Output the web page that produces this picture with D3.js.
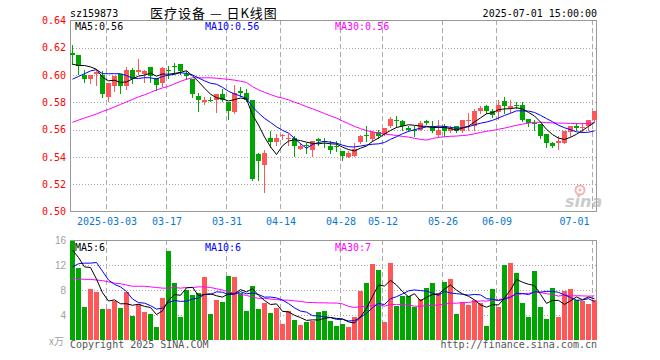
<!DOCTYPE html>
<html><head><meta charset="utf-8">
<script src="https://cdn.jsdelivr.net/npm/d3@7"></script>
<style>html,body{margin:0;padding:0;background:#fff;}svg{display:block}</style>
</head><body>
<svg id="c" width="660" height="360"></svg>
<script>
const dates = ["02-21","02-24","02-25","02-26","02-27","02-28","03-03","03-04","03-05","03-06","03-07","03-10","03-11","03-12","03-13","03-14","03-17","03-18","03-19","03-20","03-21","03-24","03-25","03-26","03-27","03-28","03-31","04-01","04-02","04-03","04-07","04-08","04-09","04-10","04-11","04-14","04-15","04-16","04-17","04-18","04-21","04-22","04-23","04-24","04-25","04-28","04-29","04-30","05-06","05-07","05-08","05-09","05-12","05-13","05-14","05-15","05-16","05-19","05-20","05-21","05-22","05-23","05-26","05-27","05-28","05-29","05-30","06-03","06-04","06-05","06-06","06-09","06-10","06-11","06-12","06-13","06-16","06-17","06-18","06-19","06-20","06-23","06-24","06-25","06-26","06-27","06-30","07-01"];

const open = [.616,.615,.600,.597,.601,.600,.584,.592,.601,.592, .604,.602,.601,.606,.598,.594,.604,.607,.608,.601, .597,.585,.580,.582,.582,.586,.580,.573,.588,.587, .582,.542,.534,.554,.551,.555,.553,.554,.546,.549, .545,.553,.552,.548,.548,.544,.540,.541,.551,.556, .553,.558,.557,.563,.567,.566,.561,.560,.560,.566, .563,.556,.563,.559,.563,.559,.566,.563,.574,.577, .574,.573,.581,.576,.578,.578,.568,.565,.564,.557, .550,.550,.550,.558,.563,.561,.563,.567];
const high = [.622,.615,.604,.600,.604,.603,.594,.599,.601,.606, .605,.612,.604,.606,.598,.606,.607,.609,.608,.603, .597,.587,.584,.584,.586,.590,.580,.593,.591,.590, .582,.543,.545,.559,.557,.557,.557,.555,.550,.550, .552,.554,.554,.552,.552,.544,.544,.550,.556,.563, .559,.560,.561,.569,.570,.567,.563,.563,.566,.567, .566,.567,.564,.563,.563,.567,.572,.575,.577,.578, .575,.582,.584,.582,.580,.580,.568,.567,.564,.557, .551,.555,.559,.563,.565,.565,.567,.574];
const low = [.608,.601,.595,.594,.593,.584,.581,.588,.587,.590, .594,.601,.595,.595,.589,.592,.598,.601,.601,.597, .584,.574,.579,.581,.573,.581,.568,.572,.585,.581, .523,.523,.514,.547,.549,.553,.549,.541,.546,.543, .541,.549,.547,.543,.544,.538,.540,.541,.550,.552, .552,.554,.556,.562,.562,.560,.559,.555,.560,.564, .558,.555,.555,.558,.558,.558,.560,.560,.572,.572, .569,.568,.572,.573,.576,.566,.563,.560,.554,.547, .547,.546,.550,.555,.560,.558,.560,.566];
const close = [.615,.607,.597,.600,.602,.586,.594,.599,.592,.604, .597,.604,.603,.599,.593,.605,.603,.606,.603,.599, .586,.582,.582,.581,.586,.582,.574,.587,.587,.582, .524,.537,.543,.551,.554,.556,.554,.548,.548,.548, .552,.552,.551,.545,.547,.541,.543,.546,.555,.555, .558,.555,.561,.568,.566,.563,.560,.559,.565,.565, .559,.560,.559,.561,.559,.567,.567,.574,.576,.574, .571,.578,.577,.577,.577,.567,.565,.564,.555,.550, .548,.552,.559,.563,.561,.562,.567,.574];
// volume, unit 万
const volume = [15.9,11.6,5.3,8.2,7.7,5.0,5.0,6.2,5.1,7.7, 3.8,5.8,4.5,4.2,2.1,6.7,14.2,9.1,3.7,8.0, 7.2,7.5,10.1,4.2,6.4,6.1,10.2,10.1,7.5,4.6, 8.6,5.0,5.9,4.3,5.1,2.6,4.6,3.2,2.4,2.9, 3.0,4.5,4.6,3.0,2.2,2.6,2.1,3.7,7.8,9.1, 12.2,11.2,2.9,12.3,5.4,7.0,7.0,5.3,6.6,8.3, 9.1,7.5,9.3,9.8,4.2,6.1,5.6,6.4,5.9,2.2, 8.2,5.3,12.0,12.3,10.7,5.9,3.7,11.0,5.3,3.4, 8.3,3.7,7.8,8.2,6.4,6.2,5.8,6.4];

// moving-average values at the start of the window (earlier days not shown)
const ma5Head = [.608,.607,.607,.606];
const ma10Head = [.597,.599,.601,.603,.604,.601,.601,.601,.601];
const ma30Head = [.5654,.5670,.5685,.5700,.5715,.5733,.5748,.5766,.5785,.5803,.5821,.5840,.5855,.5873,.5891,.5906,.5917,.5936,.5954,.5969,.5980,.5980,.5980,.5980,.5977,.5973,.5968,.5963,.5955];
const vma5Head = [14.4,13.2,11.7,11.6];
const vma10Head = [11.7,12.2,12.3,12.3,12.4,11.0,9.6,8.9,8.5];
const vma30Head = [9.8,9.8,9.7,9.7,9.6,9.5,9.3,9.1,9.0,8.8,8.6,8.6,8.6,8.5,8.4,8.3,8.3,8.4,8.3,8.4,8.4,8.5,8.5,8.4,8.2,8.0,7.7,7.5,7.3];

const priceTicks = [0.50,0.52,0.54,0.56,0.58,0.60,0.62,0.64];
const volTicks = [4,8,12,16];
const tickLabels = ["2025-03-03","03-17","03-31","04-14","04-28","05-12","05-26","06-09","07-01"];

const title = "医疗设备 — 日K线图";
const code = "sz159873";
const stamp = "2025-07-01 15:00:00";
const maPriceLabels = ["MA5:0.56","MA10:0.56","MA30:0.56"];
const maVolLabels = ["MA5:6","MA10:6","MA30:7"];

// ---------- drawing ----------
const RED = "#ff5757", GREEN = "#00a600";
const MA_COLORS = ["#000000","#0000ff","#ff00ff"];
const MONO = "'DejaVu Sans Mono', monospace";
const svg = d3.select("#c");
const L = 70, R = 597, T = 20, B = 211, VT = 240, VB = 340;

const n = dates.length;
const xc = d3.scaleLinear().domain([0, n-1]).range([72.5, 594.5]);
const xt = d3.scaleLinear().domain([0, n-1]).range([70.5, 592.5]);
const y = d3.scaleLinear().domain([0.50, 0.64]).range([211.5, 20.5]);
const yv = d3.scaleLinear().domain([0, 16]).range([340, 240]);

function ma(arr, k, head){
  return arr.map((_, i) => i < k-1 ? head[i] : d3.mean(arr.slice(i-k+1, i+1)));
}
const priceMA = [ma(close,5,ma5Head), ma(close,10,ma10Head), ma(close,30,ma30Head)];
const volMA = [ma(volume,5,vma5Head), ma(volume,10,vma10Head), ma(volume,30,vma30Head)];

const tickIdx = tickLabels.map(t => dates.indexOf(t.slice(-5)));
const isUp = i => close[i] > open[i];

// grid
const grid = svg.append("g").attr("shape-rendering","crispEdges");
priceTicks.filter(v => v > 0.50 && v < 0.64).forEach(v => {
  const yy = Math.round(y(v)) + 0.5;
  grid.append("line").attr("x1",L).attr("x2",R).attr("y1",yy).attr("y2",yy)
    .attr("stroke","#a8a8a8").attr("stroke-dasharray","1,2");
});
volTicks.filter(v => v < 16).forEach(v => {
  const yy = Math.round(yv(v)) + 0.5;
  grid.append("line").attr("x1",L).attr("x2",R).attr("y1",yy).attr("y2",yy)
    .attr("stroke","#a8a8a8").attr("stroke-dasharray","1,2");
});
tickIdx.forEach(i => {
  const xx = Math.floor(xt(i)) + 0.5;
  [[T,B],[VT,VB]].forEach(([a,b]) => {
    grid.append("line").attr("x1",xx).attr("x2",xx).attr("y1",a).attr("y2",b)
      .attr("stroke","#ababab").attr("stroke-dasharray","5,3");
  });
});

// borders
const bd = svg.append("g").attr("shape-rendering","crispEdges").attr("stroke","#999").attr("fill","none");
bd.append("rect").attr("x",L+0.5).attr("y",T+0.5).attr("width",R-L-1).attr("height",B-T);
bd.append("path").attr("d",`M${L+0.5},${VB}V${VT+0.5}H${R-0.5}V${VB}`);

// sina watermark
const wm = svg.append("g").attr("opacity",0.6);
wm.append("text").attr("x",565).attr("y",207).attr("font-family","'DejaVu Sans', sans-serif")
  .attr("font-weight","bold").attr("font-style","italic").attr("font-size",16).attr("fill","#aaaaaa").text("sina");
wm.append("circle").attr("cx",580).attr("cy",190).attr("r",4.5).attr("fill","none").attr("stroke","#f08080").attr("stroke-width",2);
wm.append("circle").attr("cx",580).attr("cy",190).attr("r",1.5).attr("fill","#f08080");

// candles
const cg = svg.append("g").attr("shape-rendering","crispEdges");
d3.range(n).forEach(i => {
  const col = isUp(i) ? RED : GREEN;
  cg.append("line").attr("x1",xc(i)).attr("x2",xc(i))
    .attr("y1",Math.round(y(high[i]))).attr("y2",Math.round(y(low[i]))+1).attr("stroke",col);
  const top = Math.round(y(Math.max(open[i],close[i])));
  const bot = Math.round(y(Math.min(open[i],close[i])));
  cg.append("rect").attr("x",xc(i)-2.5).attr("width",5).attr("y",top)
    .attr("height",Math.max(1,bot-top)).attr("fill",col);
});

// volume bars
svg.append("g").attr("shape-rendering","crispEdges").selectAll("rect").data(volume).join("rect")
  .attr("x",(d,i)=>xc(i)-2.5).attr("width",5)
  .attr("y",d=>yv(d)).attr("height",d=>VB-yv(d))
  .attr("fill",(d,i)=>isUp(i)?RED:GREEN);

// MA lines
const pl = d3.line().x((d,i)=>xc(i)).y(d=>y(d));
const vl = d3.line().x((d,i)=>xc(i)).y(d=>yv(d));
[2,1,0].forEach(k => {
  svg.append("path").attr("d",pl(priceMA[k])).attr("fill","none").attr("stroke",MA_COLORS[k]).attr("stroke-width",1);
  svg.append("path").attr("d",vl(volMA[k])).attr("fill","none").attr("stroke",MA_COLORS[k]).attr("stroke-width",1);
});

// axes
const ya = svg.append("g").attr("transform",`translate(${L},0)`)
  .call(d3.axisLeft(y).tickValues(priceTicks).tickFormat(d3.format(".2f")).tickSize(0).tickPadding(4));
ya.select(".domain").remove();
ya.selectAll("text").attr("fill","#ff0000").attr("font-family",MONO).attr("font-size",10);

const va = svg.append("g").attr("transform",`translate(${L},0)`)
  .call(d3.axisLeft(yv).tickValues(volTicks).tickFormat(d3.format("d")).tickSize(0).tickPadding(4));
va.select(".domain").remove();
va.selectAll("text").attr("fill","#a0a0a0").attr("font-family","'Liberation Sans', Arial, sans-serif").attr("font-size",10);

const xa = svg.append("g").attr("transform",`translate(0,${B})`)
  .call(d3.axisBottom(xt).tickValues(tickIdx).tickFormat((d,i)=>tickLabels[i]).tickSize(0).tickPadding(7));
xa.select(".domain").remove();
xa.selectAll("text").attr("fill","#0a78d2").attr("font-family",MONO).attr("font-size",10);
xa.selectAll(".tick").each(function(d){
  const t = d3.select(this).select("text");
  const w = t.node().getComputedTextLength();
  const cx = xt(d);
  if (cx + w/2 > 589) t.attr("x", 589 - w/2 - cx);
});

// texts
const txt = (x,yy,s,opt={}) => svg.append("text").attr("x",x).attr("y",yy)
  .attr("font-family",opt.ff||MONO).attr("font-size",opt.fs||10).attr("fill",opt.fill||"#000")
  .attr("text-anchor",opt.anchor||"start").attr("letter-spacing",opt.ls||0).text(s);
txt(70,16.5,code);
txt(150,17.5,title,{ff:"'Noto Sans CJK SC', sans-serif",fs:13,ls:1});
txt(597,16.5,stamp,{anchor:"end"});
[75,205,335].forEach((x,k)=>{
  txt(x,29.5,maPriceLabels[k],{fill:MA_COLORS[k]});
  txt(x,250.5,maVolLabels[k],{fill:MA_COLORS[k]});
});
txt(49,345,"x万",{ff:"'Noto Sans CJK SC', sans-serif",fs:10,fill:"#a0a0a0"});
txt(70,347.5,"Copyright 2025 SINA.COM",{fill:"#555"});
txt(597,347.5,"http://finance.sina.com.cn",{fill:"#555",anchor:"end"});
</script>
</body></html>
